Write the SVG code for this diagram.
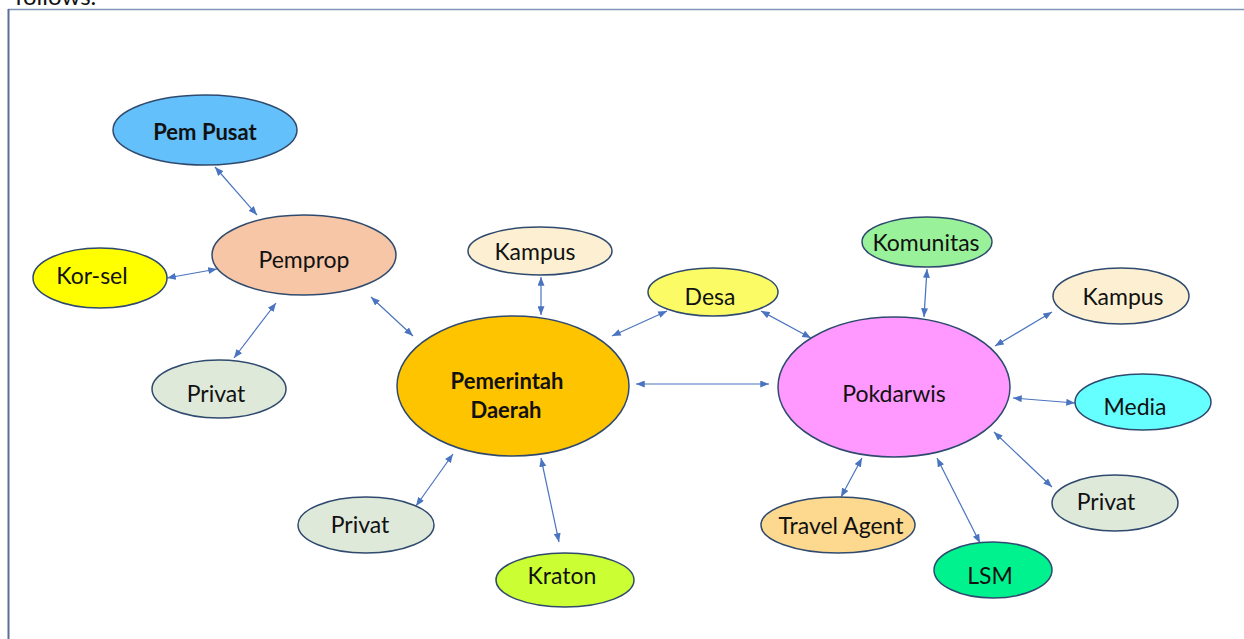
<svg xmlns="http://www.w3.org/2000/svg" width="1244" height="639" viewBox="0 0 1244 639">
<style>
.n ellipse{stroke:#2f4a6e;stroke-width:1.5}
.n text{font-family:Lato,"Liberation Sans",sans-serif;font-size:23px;fill:#111;text-anchor:middle;dominant-baseline:central}
.b text{font-weight:bold;font-size:22px}
#edges line{stroke:#4a74c0;stroke-width:1.2;marker-start:url(#ah);marker-end:url(#ah)}
</style>
<defs>
<marker id="ah" viewBox="0 0 10 8" refX="10" refY="4" markerWidth="9" markerHeight="7" markerUnits="userSpaceOnUse" orient="auto-start-reverse">
<path d="M0,0 L10,4 L0,8 Z" fill="#4a74c0"/>
</marker>
</defs>
<rect width="1244" height="639" fill="#ffffff"/>
<text x="15" y="5" font-family="Lato,'Liberation Sans',sans-serif" font-size="24" fill="#111">follows.</text>
<line x1="8" y1="9.5" x2="1244" y2="9.5" stroke="#8096b8" stroke-width="1.5"/>
<line x1="8.5" y1="9" x2="8.5" y2="639" stroke="#5a6e96" stroke-width="2"/>

<g id="edges">
<line x1="215" y1="167" x2="257" y2="215"/>
<line x1="167" y1="278" x2="217" y2="269"/>
<line x1="276" y1="303" x2="234" y2="358"/>
<line x1="371" y1="297" x2="413" y2="336"/>
<line x1="541" y1="277" x2="541" y2="315"/>
<line x1="612" y1="336" x2="667" y2="311"/>
<line x1="636" y1="384" x2="769" y2="384"/>
<line x1="761" y1="311" x2="811" y2="338"/>
<line x1="927" y1="269" x2="924" y2="317"/>
<line x1="1052" y1="312" x2="995" y2="346"/>
<line x1="1013" y1="398" x2="1075" y2="403"/>
<line x1="994" y1="432" x2="1052" y2="487"/>
<line x1="862" y1="458" x2="841" y2="497"/>
<line x1="937" y1="458" x2="980" y2="543"/>
<line x1="453" y1="454" x2="416" y2="506"/>
<line x1="541" y1="458" x2="559" y2="542"/>
</g>

<g id="pempusat" class="n b"><ellipse cx="205" cy="130" rx="92" ry="35" fill="#63c0fa"/><text x="205" y="131">Pem Pusat</text></g>
<g id="pemprop" class="n"><ellipse cx="304" cy="255" rx="92" ry="40" fill="#f6c6a6"/><text x="304" y="259">Pemprop</text></g>
<g id="korsel" class="n"><ellipse cx="100" cy="278" rx="67" ry="30" fill="#ffff00"/><text x="92" y="275">Kor-sel</text></g>
<g id="privat1" class="n"><ellipse cx="219" cy="389" rx="67" ry="29" fill="#dfe9d9"/><text x="216" y="393">Privat</text></g>
<g id="pemda" class="n b"><ellipse cx="513" cy="386" rx="116" ry="70" fill="#ffc400"/><text x="507" y="380">Pemerintah</text><text x="506" y="409">Daerah</text></g>
<g id="privat2" class="n"><ellipse cx="366" cy="525" rx="68" ry="28" fill="#dfe9d9"/><text x="360" y="524">Privat</text></g>
<g id="kraton" class="n"><ellipse cx="565" cy="580" rx="69" ry="27" fill="#ccff33"/><text x="562" y="575">Kraton</text></g>
<g id="kampus1" class="n"><ellipse cx="540" cy="251" rx="72" ry="24" fill="#fdf0d2"/><text x="535" y="251">Kampus</text></g>
<g id="desa" class="n"><ellipse cx="713" cy="292" rx="65" ry="24" fill="#fbfb66"/><text x="710" y="296">Desa</text></g>
<g id="komunitas" class="n"><ellipse cx="927" cy="242" rx="65" ry="25" fill="#99f29a"/><text x="926" y="242">Komunitas</text></g>
<g id="kampus2" class="n"><ellipse cx="1121" cy="296" rx="68" ry="28" fill="#fdf0d2"/><text x="1123" y="296">Kampus</text></g>
<g id="pokdarwis" class="n"><ellipse cx="894" cy="387" rx="116" ry="70" fill="#ff99ff"/><text x="894" y="393">Pokdarwis</text></g>
<g id="media" class="n"><ellipse cx="1143" cy="402" rx="68" ry="28" fill="#66ffff"/><text x="1135" y="406">Media</text></g>
<g id="privat3" class="n"><ellipse cx="1115" cy="503" rx="63" ry="28" fill="#dfe9d9"/><text x="1106" y="501">Privat</text></g>
<g id="travel" class="n"><ellipse cx="838" cy="525" rx="77" ry="28" fill="#fdd98f"/><text x="841" y="525">Travel Agent</text></g>
<g id="lsm" class="n"><ellipse cx="993" cy="570" rx="59" ry="28" fill="#00f28f"/><text x="990" y="575">LSM</text></g>
</svg>
